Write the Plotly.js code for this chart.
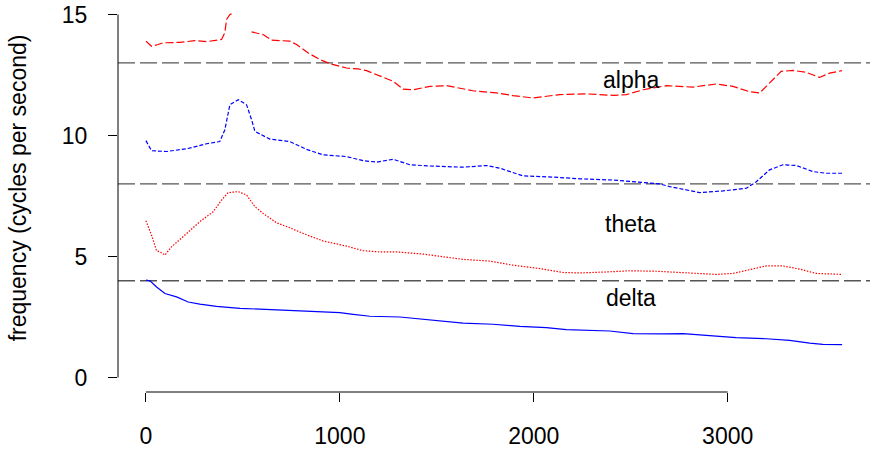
<!DOCTYPE html>
<html>
<head>
<meta charset="utf-8">
<script src="https://cdn.plot.ly/plotly-3.0.1.min.js"></script>
<style>html,body{margin:0;padding:0;background:#fff;}#chart{width:870px;height:450px;}</style>
</head>
<body>
<div id="chart"></div>
<script>
// ---- data (time in seconds, frequency in cycles per second) ----
const deltaX = [0, 21, 55, 98, 158, 218, 278, 364, 485, 622, 794, 1000, 1069, 1155, 1309, 1515, 1636, 1790, 1928, 2065, 2168, 2392, 2512, 2667, 2770, 2941, 3044, 3199, 3320, 3423, 3491, 3590];
const deltaY = [4.02, 3.99, 3.74, 3.47, 3.33, 3.12, 3.03, 2.94, 2.86, 2.81, 2.75, 2.68, 2.61, 2.53, 2.5, 2.36, 2.25, 2.2, 2.11, 2.06, 1.98, 1.92, 1.81, 1.80, 1.81, 1.71, 1.65, 1.6, 1.53, 1.42, 1.37, 1.36];

const thetaX = [0, 29, 55, 72, 98, 132, 210, 278, 347, 390, 424, 476, 519, 562, 605, 674, 742, 811, 914, 1034, 1120, 1206, 1292, 1429, 1636, 1773, 1893, 2031, 2151, 2237, 2374, 2495, 2632, 2770, 2941, 3027, 3113, 3199, 3285, 3371, 3457, 3590];
const thetaY = [6.48, 5.88, 5.24, 5.19, 5.06, 5.4, 5.95, 6.44, 6.85, 7.33, 7.64, 7.68, 7.54, 7.06, 6.78, 6.39, 6.19, 5.95, 5.64, 5.43, 5.24, 5.19, 5.19, 5.1, 4.88, 4.81, 4.64, 4.5, 4.34, 4.32, 4.36, 4.41, 4.39, 4.34, 4.26, 4.3, 4.46, 4.61, 4.61, 4.48, 4.3, 4.26];

const betaX = [0, 29, 106, 210, 313, 381, 407, 433, 476, 519, 545, 562, 639, 742, 828, 914, 1034, 1120, 1189, 1241, 1275, 1361, 1464, 1636, 1756, 1825, 1945, 2100, 2237, 2409, 2529, 2649, 2701, 2856, 2976, 3096, 3148, 3216, 3285, 3354, 3440, 3509, 3590];
const betaY = [9.79, 9.37, 9.34, 9.45, 9.66, 9.75, 10.24, 11.27, 11.48, 11.27, 10.65, 10.17, 9.85, 9.75, 9.43, 9.2, 9.13, 8.96, 8.9, 8.99, 9.02, 8.79, 8.74, 8.69, 8.76, 8.65, 8.33, 8.28, 8.21, 8.16, 8.09, 8.0, 7.89, 7.64, 7.71, 7.82, 8.09, 8.58, 8.79, 8.76, 8.51, 8.44, 8.44];

const alphaX = [0, 29, 63, 89, 175, 252, 313, 390, 407, 416, 433, 447, 500, 545, 604, 648, 742, 777, 837, 897, 948, 1034, 1094, 1138, 1223, 1275, 1326, 1378, 1464, 1550, 1687, 1808, 1893, 1996, 2134, 2271, 2409, 2478, 2564, 2684, 2821, 2941, 3027, 3113, 3165, 3216, 3276, 3337, 3405, 3474, 3526, 3590];
const alphaY = [13.9, 13.69, 13.76, 13.83, 13.85, 13.92, 13.88, 13.97, 14.25, 14.8, 15.0, 15.04, null, 14.28, 14.17, 13.94, 13.9, 13.76, 13.41, 13.14, 12.97, 12.79, 12.75, 12.68, 12.42, 12.24, 11.92, 11.89, 12.03, 12.06, 11.85, 11.76, 11.65, 11.55, 11.69, 11.72, 11.66, 11.69, 11.89, 12.06, 12.0, 12.13, 12.03, 11.81, 11.76, 12.17, 12.65, 12.69, 12.61, 12.4, 12.58, 12.68];

// band boundaries and labels
const boundaries = [4, 8, 13];
const bandLabels = ["delta", "theta", "alpha"];
const bandLabelX = [2500, 2500, 2500];
const bandLabelY = [3.3, 6.35, 12.3];

const xTicks = [0, 1000, 2000, 3000];
const yTicks = [0, 5, 10, 15];
const yTitle = "frequency (cycles per second)";

const FONT = "Liberation Sans, Arial, Helvetica, sans-serif";

const traces = [
  {x: deltaX, y: deltaY, mode: "lines", line: {color: "#0000FF", width: 1.2, dash: "solid"}},
  {x: thetaX, y: thetaY, mode: "lines", line: {color: "#FF0000", width: 1.2, dash: "1.5px,1.5px"}},
  {x: betaX, y: betaY, mode: "lines", line: {color: "#0000FF", width: 1.2, dash: "4px,2px"}},
  {x: alphaX, y: alphaY, mode: "lines", connectgaps: false, line: {color: "#FF0000", width: 1.2, dash: "8px,3px"}}
];

const shapes = boundaries.map(b => ({
  type: "line", xref: "paper", yref: "y", x0: 0, x1: 1, y0: b, y1: b,
  line: {color: "#555555", width: 1.4, dash: "17px,5px"}, layer: "below"
}));
// R-style axis lines spanning the tick range only
shapes.push({type: "line", xref: "x", yref: "paper", x0: xTicks[0], x1: xTicks[xTicks.length-1], y0: 0, y1: 0, line: {color: "#000", width: 1}});
shapes.push({type: "line", xref: "paper", yref: "y", x0: 0, x1: 0, y0: yTicks[0], y1: yTicks[yTicks.length-1], line: {color: "#000", width: 1}});

const annotations = bandLabels.map((t, i) => ({
  x: bandLabelX[i], y: bandLabelY[i], xref: "x", yref: "y", text: t, showarrow: false,
  xanchor: "center", yanchor: "middle", font: {family: FONT, size: 23, color: "#000"}
}));
annotations.push({
  text: yTitle, xref: "paper", yref: "paper", x: -0.133, y: 0.522, showarrow: false,
  textangle: -90, xanchor: "center", yanchor: "middle", font: {family: FONT, size: 23, color: "#000"}
});

const layout = {
  width: 870, height: 450,
  margin: {l: 118, r: 0, t: 0, b: 58, pad: 0},
  paper_bgcolor: "#fff", plot_bgcolor: "#fff",
  showlegend: false,
  font: {family: FONT, size: 23, color: "#000"},
  xaxis: {
    range: [-144, 3734], showgrid: false, zeroline: false, showline: false,
    tickmode: "array", tickvals: xTicks, ticktext: xTicks.map(String),
    ticks: "outside", ticklen: 9, tickwidth: 1, tickcolor: "#000",
    ticklabelstandoff: 14, tickfont: {family: FONT, size: 23, color: "#000"}
  },
  yaxis: {
    range: [-0.6, 15.6], showgrid: false, zeroline: false, showline: false,
    tickmode: "array", tickvals: yTicks, ticktext: yTicks.map(String),
    ticks: "outside", ticklen: 9, tickwidth: 1, tickcolor: "#000",
    ticklabelstandoff: 16, tickfont: {family: FONT, size: 23, color: "#000"}
  },
  shapes: shapes,
  annotations: annotations
};

Plotly.newPlot("chart", traces, layout, {displayModeBar: false, staticPlot: true});
</script>
</body>
</html>
